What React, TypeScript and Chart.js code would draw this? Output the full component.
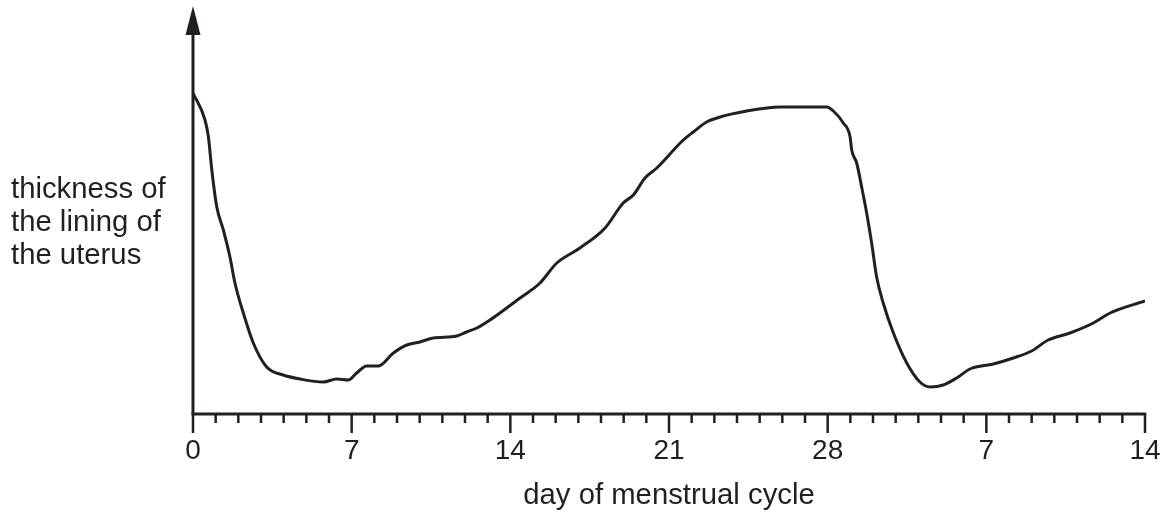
import { useEffect, useRef } from 'react';
import { Chart, registerables } from 'chart.js';

Chart.register(...registerables);

// Day of menstrual cycle (0–28, then days 1–14 of the next cycle as 29–42)
const days = [
  0, 0.53, 0.68, 0.83, 1.05, 1.34, 1.63, 1.85, 2.22, 2.66, 3.25, 3.98, 4.72, 5.75,
  6.34, 6.85, 7.22, 7.66, 8.18, 8.84, 9.43, 10.01, 10.6, 11.63, 12.07, 12.52, 13.1,
  13.54, 14.43, 15.31, 16.05, 17.07, 18.18, 18.98, 19.43, 19.94, 20.46, 21.63, 22.07,
  22.66, 23.25, 24.43, 25.9, 27.96, 28.25, 28.69, 28.99, 29.06, 29.28, 29.5, 29.72,
  29.94, 30.16, 30.45, 30.9, 31.49, 32.07, 32.52, 33.1, 33.69, 34.28, 35.31, 36.19,
  37.0, 37.73, 38.69, 39.72, 40.46, 42,
];

// Thickness of the uterus lining (arbitrary units)
const thickness = [
  321, 294, 277, 244, 207, 184, 157, 131, 101, 71, 47, 39, 35, 32,
  35, 34, 41, 48, 48, 61, 69, 72, 76, 78, 82, 86, 94,
  101, 116, 131, 151, 166, 186, 211, 219, 236, 246, 274, 282,
  292, 297, 303, 307, 307, 303, 291, 277, 264, 251, 227, 201,
  171, 137, 111, 81, 51, 32, 27, 29, 36, 45, 50, 56,
  63, 74, 81, 91, 101, 113,
];

const majorTickDays = [0, 7, 14, 21, 28, 35, 42];
const tickLabels = ['0', '7', '14', '21', '28', '7', '14'];
const yLabelLines = ['thickness of', 'the lining of', 'the uterus'];
const xTitle = 'day of menstrual cycle';

const INK = '#231f20';
const FONT_FAMILY = '"Liberation Sans", Arial, Helvetica, sans-serif';

const axesPlugin = {
  id: 'customAxes',
  afterDraw(chart: any) {
    const { ctx, chartArea, scales } = chart;
    const xs = scales.x;
    const left = chartArea.left;
    const right = chartArea.right;
    const bottom = chartArea.bottom;
    ctx.save();
    ctx.strokeStyle = INK;
    ctx.fillStyle = INK;
    ctx.lineCap = 'butt';

    // x axis line
    ctx.lineWidth = 3;
    ctx.beginPath();
    ctx.moveTo(left - 1.5, bottom);
    ctx.lineTo(right + 1.25, bottom);
    ctx.stroke();

    // tick marks every day, long ones every week
    ctx.lineWidth = 2.5;
    for (let d = 0; d <= 42; d++) {
      const x = xs.getPixelForValue(d);
      const len = majorTickDays.includes(d) ? 19 : 9;
      ctx.beginPath();
      ctx.moveTo(x, bottom);
      ctx.lineTo(x, bottom + len);
      ctx.stroke();
    }

    // y axis line with arrow
    ctx.lineWidth = 3;
    ctx.beginPath();
    ctx.moveTo(left, bottom);
    ctx.lineTo(left, 30);
    ctx.stroke();
    ctx.beginPath();
    ctx.moveTo(left, 6);
    ctx.lineTo(left - 7.5, 35);
    ctx.lineTo(left + 7.5, 35);
    ctx.closePath();
    ctx.fill();

    // texts
    ctx.font = `29.3px ${FONT_FAMILY}`;
    ctx.textBaseline = 'alphabetic';
    ctx.textAlign = 'left';
    const baselines = [198, 231, 264];
    yLabelLines.forEach((line, i) => ctx.fillText(line, 11, baselines[i]));
    ctx.textAlign = 'center';
    ctx.fillText(xTitle, (left + right) / 2, 504);
    ctx.restore();
  },
};

export default function App() {
  const canvasRef = useRef<HTMLCanvasElement>(null);

  useEffect(() => {
    if (!canvasRef.current) return;
    const chart = new Chart(canvasRef.current, {
      type: 'line',
      data: {
        datasets: [
          {
            data: days.map((d, i) => ({ x: d, y: thickness[i] })),
            borderColor: INK,
            borderWidth: 3,
            pointRadius: 0,
            fill: false,
            cubicInterpolationMode: 'monotone',
          },
        ],
      },
      options: {
        responsive: false,
        animation: false,
        layout: { padding: { left: 193, right: 25, top: 7, bottom: 0 } },
        plugins: {
          legend: { display: false },
          tooltip: { enabled: false },
        },
        scales: {
          x: {
            type: 'linear',
            min: 0,
            max: 42,
            grid: { display: false, drawTicks: false },
            border: { display: false },
            afterFit: (scale: any) => {
              scale.height = 99;
              scale.paddingLeft = 0;
              scale.paddingRight = 0;
            },
            ticks: {
              stepSize: 7,
              autoSkip: false,
              maxRotation: 0,
              padding: 20,
              color: INK,
              font: { size: 28, family: FONT_FAMILY },
              callback: (value: any) => {
                const idx = majorTickDays.indexOf(Number(value));
                return idx >= 0 ? tickLabels[idx] : '';
              },
            },
          },
          y: {
            display: false,
            min: 0,
            max: 407,
          },
        },
      },
      plugins: [axesPlugin],
    } as any);
    return () => chart.destroy();
  }, []);

  return (
    <div style={{ position: 'fixed', left: 0, top: 0, width: 1170, height: 513, background: '#fff' }}>
      <canvas ref={canvasRef} width={1170} height={513} style={{ display: 'block' }} />
    </div>
  );
}
